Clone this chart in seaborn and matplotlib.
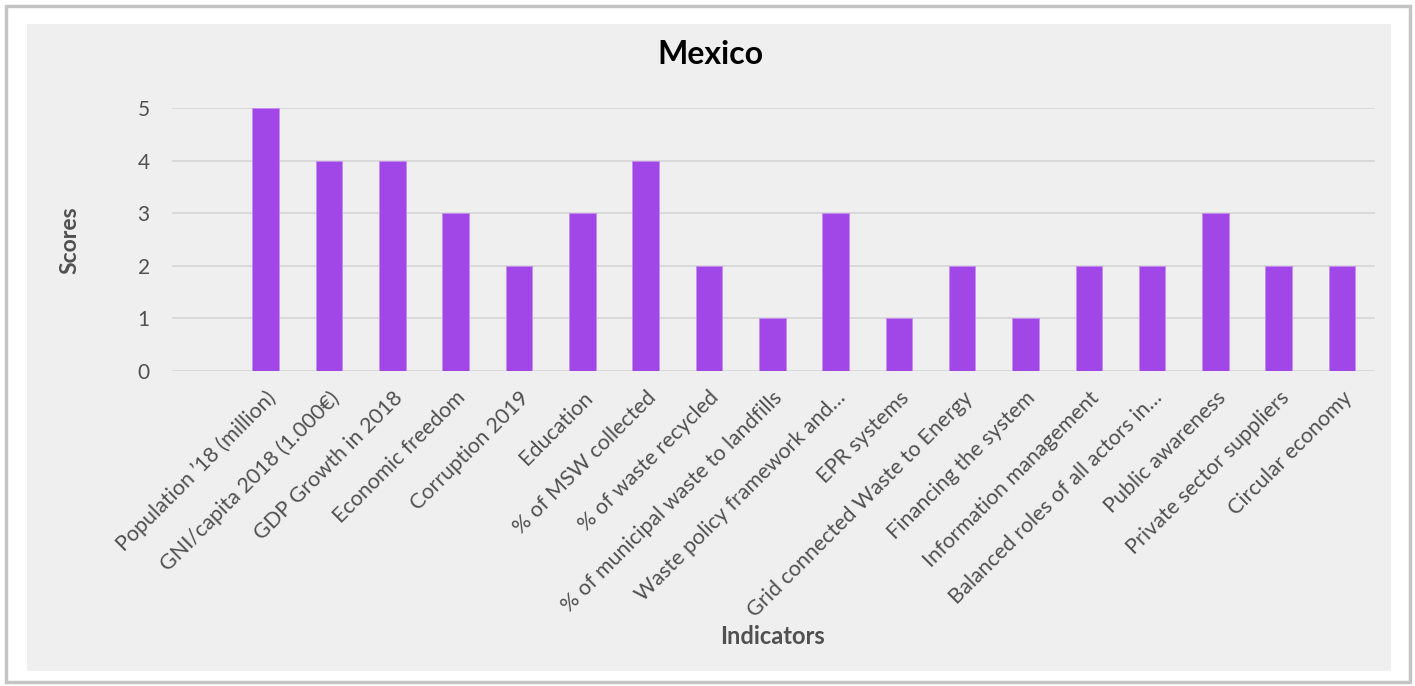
import matplotlib
matplotlib.use("Agg")
import matplotlib.pyplot as plt
import seaborn as sns
import pandas as pd
from matplotlib.patches import Rectangle

# ========== 数据 ==========
indicators = [
    "Population \u201918 (million)",
    "GNI/capita 2018 (1.000\u20ac)",
    "GDP Growth in 2018",
    "Economic freedom",
    "Corruption 2019",
    "Education",
    "% of MSW collected",
    "% of waste recycled",
    "% of municipal waste to landfills",
    "Waste policy framework and\u2026",
    "EPR systems",
    "Grid connected Waste to Energy",
    "Financing the system",
    "Information management",
    "Balanced roles of all actors in\u2026",
    "Public awareness",
    "Private sector suppliers",
    "Circular economy",
]
scores = [5, 4, 4, 3, 2, 3, 4, 2, 1, 3, 1, 2, 1, 2, 2, 3, 2, 2]
y_ticks = [0, 1, 2, 3, 4, 5]

BAR_COLOR = "#A146E7"
PANEL = "#EFEFEF"
TEXT = "#505050"

sns.set_theme(style="white")
plt.rcParams["font.family"] = ["Lato", "DejaVu Sans"]
plt.rcParams["ytick.major.pad"] = 16
plt.rcParams["xtick.major.pad"] = 12

df = pd.DataFrame({"Indicators": indicators, "Scores": scores})

fig = plt.figure(figsize=(14.15, 6.86), dpi=100)
fig.patch.set_facecolor("white")

# 外框阴影 + 灰色面板
fig.patches.append(Rectangle((6 / 1415, 4 / 686), 1404 / 1415, 676 / 686,
                             transform=fig.transFigure, facecolor="none",
                             edgecolor="#C4C4C4", linewidth=2.5, zorder=-2))
fig.patches.append(Rectangle((27 / 1415, 15 / 686), 1364 / 1415, 647 / 686,
                             transform=fig.transFigure, facecolor=PANEL,
                             edgecolor="none", zorder=-1))

ax = fig.add_axes([172 / 1415, 1 - 371 / 686, 1203 / 1415, 263 / 686])
ax.set_zorder(2)
ax.patch.set_alpha(0)

sns.barplot(data=df, x="Indicators", y="Scores", color=BAR_COLOR,
            width=0.42, saturation=1, edgecolor="#C58CF0", linewidth=0.6,
            ax=ax, zorder=3)

ax.set_xlim(-1.48, len(indicators) - 0.48)
ax.set_ylim(0, 5)
ax.set_yticks(y_ticks)
ax.set_yticklabels([str(v) for v in y_ticks])
ax.yaxis.grid(True, color="#D9D9D9", linewidth=1.4, zorder=0)
ax.set_axisbelow(True)
for s in ax.spines.values():
    s.set_visible(False)

ax.tick_params(axis="y", length=0, pad=16, labelsize=15, labelcolor=TEXT)
ax.tick_params(axis="x", length=0, pad=12, labelsize=15.5, labelcolor=TEXT)
for lbl in ax.get_xticklabels():
    lbl.set_rotation(45)
    lbl.set_ha("right")
    lbl.set_rotation_mode("anchor")
ax.set_xlabel("")
ax.set_ylabel("")

fig.text(710 / 1415, 1 - 55 / 686, "Mexico", ha="center", va="center",
         fontsize=23, fontweight="bold", color="black")
fig.text(70 / 1415, 1 - 240 / 686, "Scores", ha="center", va="center",
         rotation=90, fontsize=16.5, fontweight="bold", color=TEXT)
fig.text(772 / 1415, 1 - 636 / 686, "Indicators", ha="center", va="center",
         fontsize=17, fontweight="bold", color=TEXT)

fig.savefig("out.png", dpi=100, facecolor=fig.get_facecolor())
